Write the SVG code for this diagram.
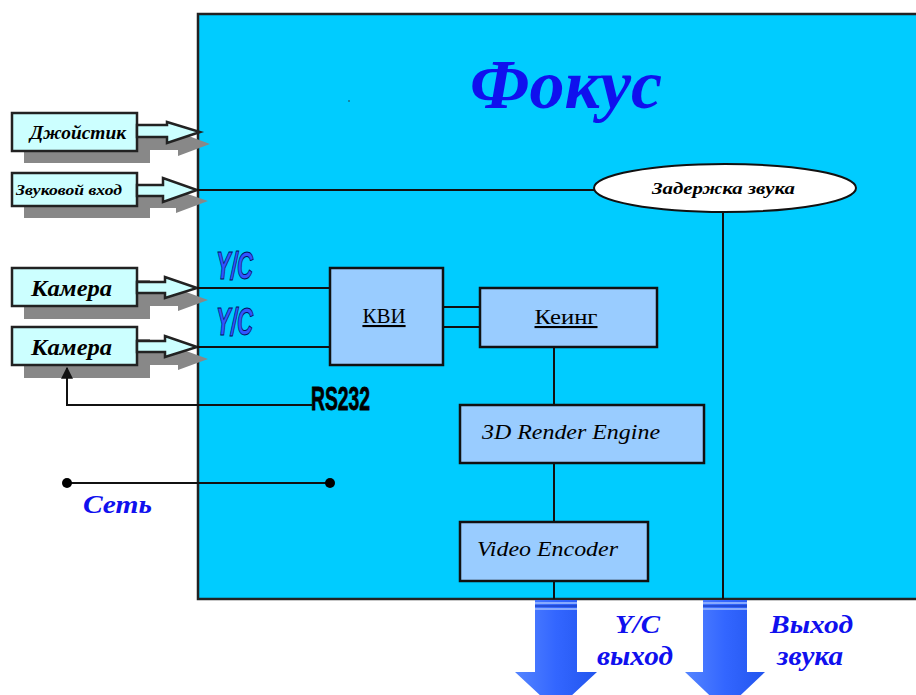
<svg xmlns="http://www.w3.org/2000/svg" width="916" height="695" viewBox="0 0 916 695">
<defs>
<style>
.ln{stroke:#111;stroke-width:2;fill:none}
.blk{fill:#99CCFF;stroke:#111;stroke-width:2.5}
.inbox{fill:#CCFFFF;stroke:#222;stroke-width:2.5}
.shadow{fill:#888}
.inlbl{font-family:"Liberation Serif",serif;font-style:italic;font-weight:bold;fill:#000}
.blt{font-family:"Liberation Serif",serif;font-size:21px;fill:#000}
.it{font-style:italic}
.blue{font-family:"Liberation Serif",serif;font-style:italic;font-weight:bold;fill:#1010EE}
.yc{font-family:"Liberation Sans Narrow","Liberation Sans",sans-serif;font-style:italic;font-weight:bold;font-size:38px;fill:#3355FF;stroke:#001060;stroke-width:1}
.outarr{fill:url(#g)}
</style>
<linearGradient id="g" x1="0" y1="0" x2="1" y2="0">
<stop offset="0" stop-color="#5585FF"/>
<stop offset="0.5" stop-color="#3366FF"/>
<stop offset="1" stop-color="#2255EE"/>
</linearGradient>
<marker id="ah" viewBox="0 0 10 10" refX="9" refY="5" markerWidth="6" markerHeight="6" orient="auto">
<path d="M0,0 L10,5 L0,10 z" fill="#111"/>
</marker>
</defs>
<rect width="916" height="695" fill="#fff"/>

<g id="focus">
<rect x="198" y="14" width="730" height="585" fill="#00CCFF" stroke="#222" stroke-width="2.5"/>
<text x="470" y="108" class="blue" font-size="70">Фокус</text>
<circle cx="349" cy="101" r="0.8" fill="#333"/>
</g>

<g id="shadows">
<rect x="24" y="125" width="126" height="38" class="shadow"/>
<polygon points="150,135 178,135 178,132 210,144 178,156 178,150 150,150" class="shadow"/>
<rect x="24" y="184" width="126" height="34" class="shadow"/>
<polygon points="150,196 176,196 176,190 208,201 176,213 176,208 150,208" class="shadow"/>
<rect x="24" y="280" width="126" height="39" class="shadow"/>
<polygon points="150,294 178,294 178,289 208,300 178,311 178,306 150,306" class="shadow"/>
<rect x="24" y="339" width="126" height="39" class="shadow"/>
<polygon points="150,353 178,353 178,348 208,359 178,370 178,365 150,365" class="shadow"/>
</g>

<g id="joystick">
<rect x="12" y="113" width="125" height="38" class="inbox"/>
<polygon points="137,125 167,125 167,122 200,132 167,143 167,137 137,137" class="inbox"/>
<text x="30" y="139" class="inlbl" font-size="19" textLength="96" lengthAdjust="spacingAndGlyphs">Джойстик</text>
</g>

<g id="audio-in">
<rect x="12" y="173" width="125" height="33" class="inbox"/>
<polygon points="137,185 163,185 163,178 197,190 163,202 163,196 137,196" class="inbox"/>
<text x="16" y="195" class="inlbl" font-size="15" textLength="106" lengthAdjust="spacingAndGlyphs">Звуковой вход</text>
</g>

<g id="camera1">
<rect x="12" y="268" width="125" height="38" class="inbox"/>
<polygon points="137,282 165,282 165,277 197,288 165,298 165,293 137,293" class="inbox"/>
<text x="31" y="296" class="inlbl" font-size="23" textLength="81" lengthAdjust="spacingAndGlyphs">Камера</text>
</g>

<g id="camera2">
<rect x="12" y="327" width="125" height="38" class="inbox"/>
<polygon points="137,341 165,341 165,336 197,347 165,357 165,352 137,352" class="inbox"/>
<text x="31" y="355" class="inlbl" font-size="23" textLength="81" lengthAdjust="spacingAndGlyphs">Камера</text>
</g>

<g id="connectors">
<line x1="197" y1="190" x2="594" y2="190" class="ln"/>
<line x1="723" y1="211" x2="723" y2="599" class="ln"/>
<line x1="197" y1="288" x2="330" y2="288" class="ln"/>
<line x1="197" y1="347" x2="330" y2="347" class="ln"/>
<line x1="443" y1="307" x2="480" y2="307" class="ln"/>
<line x1="443" y1="327" x2="480" y2="327" class="ln"/>
<line x1="554" y1="347" x2="554" y2="405" class="ln"/>
<line x1="554" y1="463" x2="554" y2="522" class="ln"/>
<line x1="554" y1="581" x2="554" y2="599" class="ln"/>
<polyline points="312,405 67,405 67,368" class="ln" marker-end="url(#ah)"/>
<line x1="67" y1="483" x2="330" y2="483" class="ln"/>
<circle cx="67" cy="483" r="5" fill="#000"/>
<circle cx="330" cy="483" r="5" fill="#000"/>
</g>

<g id="yc-labels">
<text x="216" y="279" class="yc" textLength="37" lengthAdjust="spacingAndGlyphs">Y/C</text>
<text x="216" y="335" class="yc" textLength="37" lengthAdjust="spacingAndGlyphs">Y/C</text>
<text x="311" y="410" font-family="'Liberation Sans Narrow','Liberation Sans',sans-serif" font-weight="bold" font-size="33" textLength="59" lengthAdjust="spacingAndGlyphs" fill="#000" stroke="#000" stroke-width="0.8">RS232</text>
</g>

<g id="kvi">
<rect x="330" y="268" width="113" height="97" class="blk"/>
<text x="384" y="323" class="blt" text-anchor="middle" text-decoration="underline">КВИ</text>
</g>

<g id="keing">
<rect x="480" y="288" width="177" height="59" class="blk"/>
<text x="566" y="324" class="blt" font-size="22" text-anchor="middle" text-decoration="underline" textLength="63" lengthAdjust="spacingAndGlyphs">Кеинг</text>
</g>

<g id="render">
<rect x="460" y="405" width="244" height="58" class="blk"/>
<text x="482" y="439" class="blt it" font-size="21" textLength="178" lengthAdjust="spacingAndGlyphs">3D Render Engine</text>
</g>

<g id="encoder">
<rect x="460" y="522" width="188" height="59" class="blk"/>
<text x="477" y="556" class="blt it" font-size="21" textLength="141" lengthAdjust="spacingAndGlyphs">Video Encoder</text>
</g>

<g id="delay">
<ellipse cx="725" cy="188" rx="131" ry="24" fill="#fff" stroke="#111" stroke-width="2"/>
<text x="652" y="194" class="inlbl" font-size="17" textLength="143" lengthAdjust="spacingAndGlyphs">Задержка звука</text>
</g>

<g id="network">
<text x="83" y="513" class="blue" font-size="26" textLength="69" lengthAdjust="spacingAndGlyphs">Сеть</text>
</g>

<g id="yc-out">
<polygon points="535,600 577,600 577,672 597,672 556,710 515,672 535,672" class="outarr"/>
<line x1="535" y1="603" x2="577" y2="603" stroke="#88AAFF" stroke-width="2"/>
<line x1="535" y1="609" x2="577" y2="609" stroke="#88AAFF" stroke-width="2"/>
<line x1="535" y1="606" x2="577" y2="606" stroke="#1E44C8" stroke-width="1.5"/>
<text x="615" y="633" class="blue" font-size="26" textLength="45" lengthAdjust="spacingAndGlyphs">Y/C</text>
<text x="597" y="665" class="blue" font-size="27" textLength="76" lengthAdjust="spacingAndGlyphs">выход</text>
</g>

<g id="audio-out">
<polygon points="703,600 747,600 747,672 765,672 725,710 685,672 703,672" class="outarr"/>
<line x1="703" y1="603" x2="747" y2="603" stroke="#88AAFF" stroke-width="2"/>
<line x1="703" y1="609" x2="747" y2="609" stroke="#88AAFF" stroke-width="2"/>
<line x1="703" y1="606" x2="747" y2="606" stroke="#1E44C8" stroke-width="1.5"/>
<text x="770" y="633" class="blue" font-size="26" textLength="83" lengthAdjust="spacingAndGlyphs">Выход</text>
<text x="777" y="665" class="blue" font-size="27" textLength="66" lengthAdjust="spacingAndGlyphs">звука</text>
</g>
</svg>
